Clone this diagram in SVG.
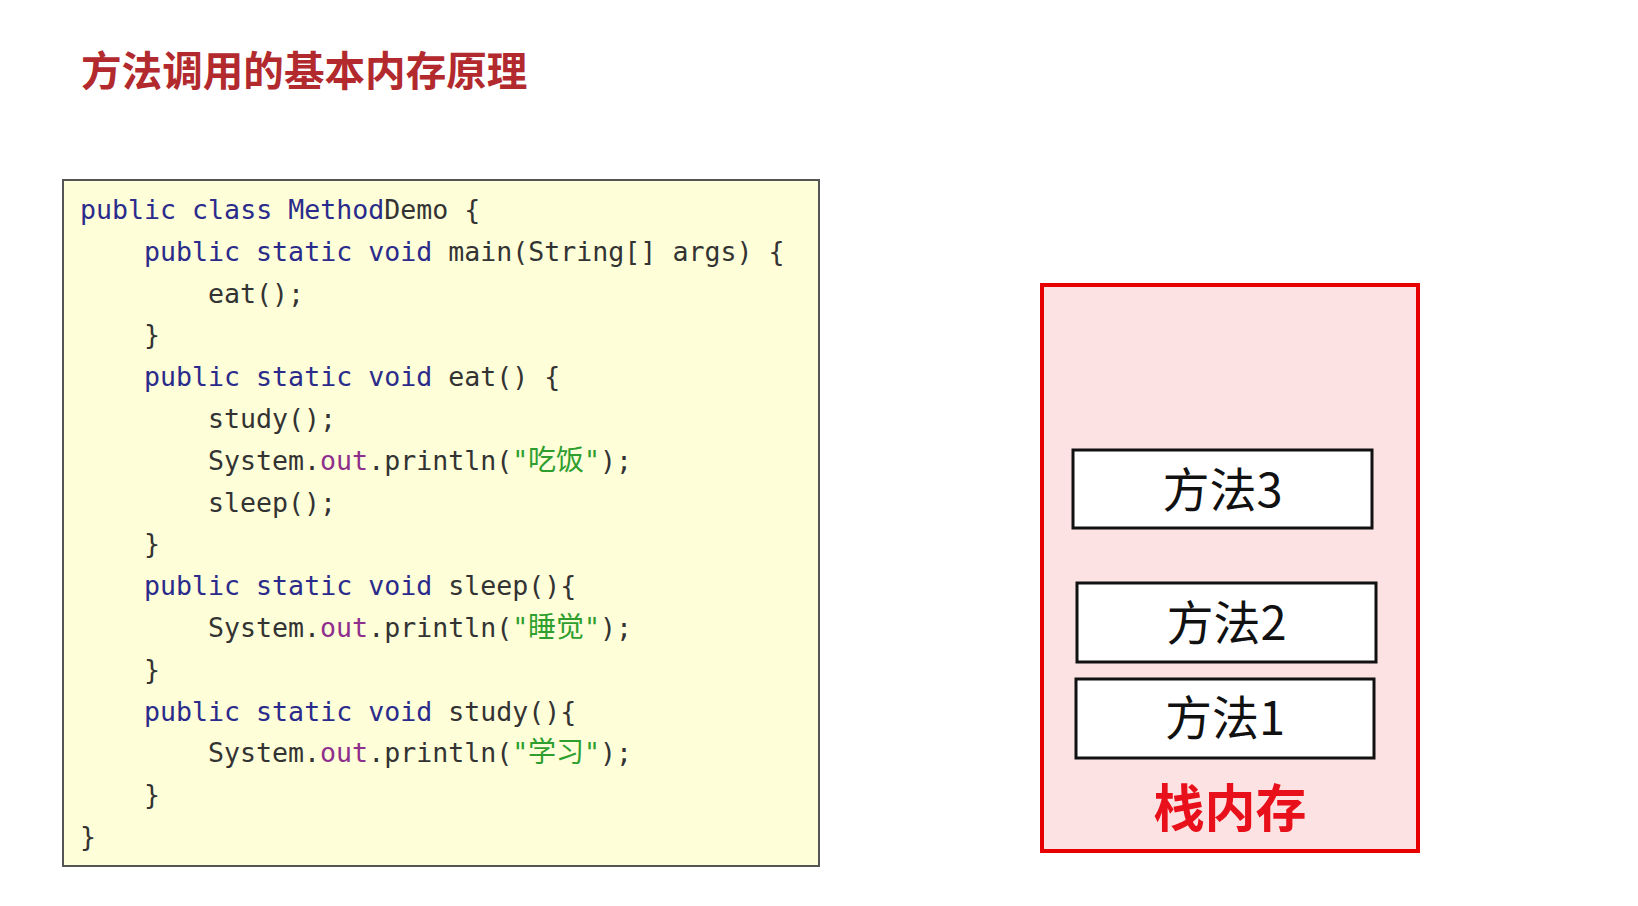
<svg xmlns="http://www.w3.org/2000/svg" width="1638" height="906" viewBox="0 0 1638 906">
<style>
.code{font-family:"DejaVu Sans Mono","Liberation Mono",monospace;font-size:26.6px;fill:#333333}
.kw{fill:#2b2b8c}
.out{fill:#8e2f8e}
.str{fill:#2e9e2e}
.cjk{font-family:"Noto Sans CJK SC",sans-serif;font-size:28px}
.frame{fill:#ffffff;stroke:#111111;stroke-width:3}
.flabel{font-family:"Noto Sans CJK SC",sans-serif;font-size:47px;fill:#111111;text-anchor:middle}
</style>
<rect width="1638" height="906" fill="#ffffff"/>
<g id="title">
<text x="81" y="86" font-family="Noto Sans CJK SC, sans-serif" font-weight="bold" font-size="40.6" fill="#b22a2e">方法调用的基本内存原理</text>
</g>
<g id="code">
<rect x="63" y="180" width="756" height="686" fill="#fefed8" stroke="#555555" stroke-width="2"/>
<text class="code" x="80" y="219"><tspan class="kw">public</tspan> <tspan class="kw">class</tspan> <tspan class="kw">Method</tspan>Demo {</text>
<text class="code" x="144" y="260.8"><tspan class="kw">public</tspan> <tspan class="kw">static</tspan> <tspan class="kw">void</tspan> main(String[] args) {</text>
<text class="code" x="208" y="302.6">eat();</text>
<text class="code" x="144" y="344.4">}</text>
<text class="code" x="144" y="386.2"><tspan class="kw">public</tspan> <tspan class="kw">static</tspan> <tspan class="kw">void</tspan> eat() {</text>
<text class="code" x="208" y="428">study();</text>
<text class="code" x="208" y="469.8">System.<tspan class="out">out</tspan>.println(<tspan class="str">"</tspan><tspan class="str cjk" x="528">吃饭</tspan><tspan class="str" x="584">"</tspan>);</text>
<text class="code" x="208" y="511.6">sleep();</text>
<text class="code" x="144" y="553.4">}</text>
<text class="code" x="144" y="595.2"><tspan class="kw">public</tspan> <tspan class="kw">static</tspan> <tspan class="kw">void</tspan> sleep(){</text>
<text class="code" x="208" y="637">System.<tspan class="out">out</tspan>.println(<tspan class="str">"</tspan><tspan class="str cjk" x="528">睡觉</tspan><tspan class="str" x="584">"</tspan>);</text>
<text class="code" x="144" y="678.8">}</text>
<text class="code" x="144" y="720.6"><tspan class="kw">public</tspan> <tspan class="kw">static</tspan> <tspan class="kw">void</tspan> study(){</text>
<text class="code" x="208" y="762.4">System.<tspan class="out">out</tspan>.println(<tspan class="str">"</tspan><tspan class="str cjk" x="528">学习</tspan><tspan class="str" x="584">"</tspan>);</text>
<text class="code" x="144" y="804.2">}</text>
<text class="code" x="80" y="846">}</text>
</g>
<g id="stack">
<rect x="1042" y="285" width="376" height="566" fill="#fde2e3" stroke="#e60000" stroke-width="4"/>
<text x="1230" y="827" font-family="Noto Sans CJK SC, sans-serif" font-weight="bold" font-size="51" fill="#e8101a" text-anchor="middle">栈内存</text>
</g>
<g id="method3">
<rect class="frame" x="1073" y="450" width="299" height="78"/>
<text class="flabel" x="1222.5" y="507">方法3</text>
</g>
<g id="method2">
<rect class="frame" x="1077" y="583" width="299" height="79"/>
<text class="flabel" x="1226.5" y="640">方法2</text>
</g>
<g id="method1">
<rect class="frame" x="1076" y="679" width="298" height="79"/>
<text class="flabel" x="1225" y="735">方法1</text>
</g>
<g id="connectors"/>
</svg>
